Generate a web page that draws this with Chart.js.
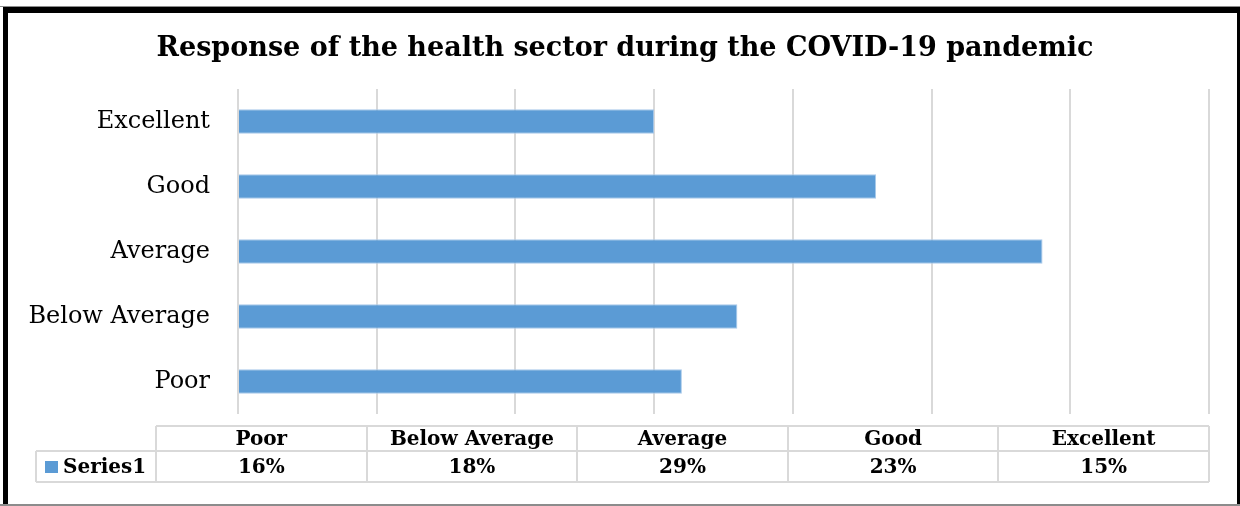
<!DOCTYPE html>
<html>
<head>
<meta charset="utf-8">
<title>Response of the health sector during the COVID-19 pandemic</title>
<script src="https://cdn.jsdelivr.net/npm/chart.js@4"></script>
<style>
  html, body { margin: 0; padding: 0; background: #fff; }
  #wrap { width: 1240px; height: 506px; position: relative; }
</style>
</head>
<body>
<div id="wrap"><canvas id="chart"></canvas></div>
<script>
// ratings, bottom to top on the bar axis (same order as the data table)
var categories = ['Poor', 'Below Average', 'Average', 'Good', 'Excellent'];
var seriesName = 'Series1';
var values = [16, 18, 29, 23, 15];   // percent
var axisMax = 35;
var axisStep = 5;
var chartTitle = 'Response of the health sector during the COVID-19 pandemic';

var serif = "'DejaVu Serif', 'Liberation Serif', serif";
var barColor = '#5B9BD5';
var lineGrey = '#d9d9d9';

// frame round the whole chart, plus the title
var framePlugin = {
    id: 'frame',
    beforeDraw: function(chart) {
        var ctx = chart.ctx;
        ctx.save();
        ctx.fillStyle = '#fff';
        ctx.fillRect(0, 0, chart.width, chart.height);
        ctx.fillStyle = '#8c8c8c';
        ctx.fillRect(0, 6, chart.width, 1);
        ctx.fillRect(0, 504, chart.width, 2);
        ctx.fillStyle = '#000';
        ctx.fillRect(3, 7, chart.width - 3, 6);      // top
        ctx.fillRect(3, 7, 5, 497);                   // left
        ctx.fillRect(1237, 7, 3, 497);                // right

        ctx.font = 'bold 27px ' + serif;
        ctx.textAlign = 'center';
        ctx.textBaseline = 'alphabetic';
        ctx.fillText(chartTitle, 625, 56);
        ctx.restore();
    }
};

// Excel style data table under the plot
var tablePlugin = {
    id: 'dataTable',
    afterDraw: function(chart) {
        var ctx = chart.ctx;
        var right = chart.chartArea.right;
        var left = 156;
        var legendLeft = 36;
        var top = 426, mid = 451, bottom = 482;
        var colW = (right - left) / categories.length;

        ctx.save();
        ctx.strokeStyle = lineGrey;
        ctx.lineWidth = 2;
        ctx.beginPath();
        // horizontal rules
        ctx.moveTo(left, top); ctx.lineTo(right, top);
        ctx.moveTo(legendLeft, mid); ctx.lineTo(right, mid);
        ctx.moveTo(legendLeft, bottom); ctx.lineTo(right, bottom);
        // vertical rules
        ctx.moveTo(legendLeft, mid); ctx.lineTo(legendLeft, bottom);
        for (var i = 0; i <= categories.length; i++) {
            var x = Math.round(left + i * colW);
            ctx.moveTo(x, top); ctx.lineTo(x, bottom);
        }
        ctx.stroke();

        ctx.fillStyle = '#000';
        ctx.font = 'bold 20px ' + serif;
        ctx.textAlign = 'center';
        ctx.textBaseline = 'middle';
        categories.forEach(function(cat, i) {
            var cx = left + (i + 0.5) * colW;
            ctx.fillText(cat, cx, (top + mid) / 2 + 1);
            ctx.fillText(values[i] + '%', cx, (mid + bottom) / 2 + 1);
        });

        // legend key
        ctx.fillStyle = barColor;
        ctx.fillRect(45, 461, 13, 12);
        ctx.fillStyle = '#000';
        ctx.textAlign = 'left';
        ctx.fillText(seriesName, 63, (mid + bottom) / 2 + 1);
        ctx.restore();
    }
};

const ctx = document.getElementById('chart');

new Chart(ctx, {
    type: 'bar',
    data: {
        labels: categories,
        datasets: [{
            label: seriesName,
            data: values,
            backgroundColor: barColor,
            borderColor: '#a8c9ea',
            borderWidth: 1,
            categoryPercentage: 1,
            barPercentage: 0.38
        }]
    },
    options: {
        indexAxis: 'y',
        responsive: true,
        maintainAspectRatio: false,
        animation: false,
        layout: {
            padding: { top: 89, left: 10, right: 31, bottom: 92 }
        },
        plugins: {
            legend: { display: false },
            tooltip: { enabled: false },
            title: { display: false }
        },
        scales: {
            x: {
                min: 0,
                max: axisMax,
                ticks: { display: false, stepSize: axisStep },
                border: { display: false },
                grid: { color: lineGrey, lineWidth: 2, drawTicks: false },
                afterFit: function(scale) { scale.height = 0; }
            },
            y: {
                reverse: true,
                border: { display: false },
                grid: { display: false, drawTicks: false },
                ticks: {
                    color: '#000',
                    padding: 28,
                    font: { family: serif, size: 24 }
                },
                afterFit: function(scale) { scale.width = 228; }
            }
        }
    },
    plugins: [framePlugin, tablePlugin]
});
</script>
</body>
</html>
